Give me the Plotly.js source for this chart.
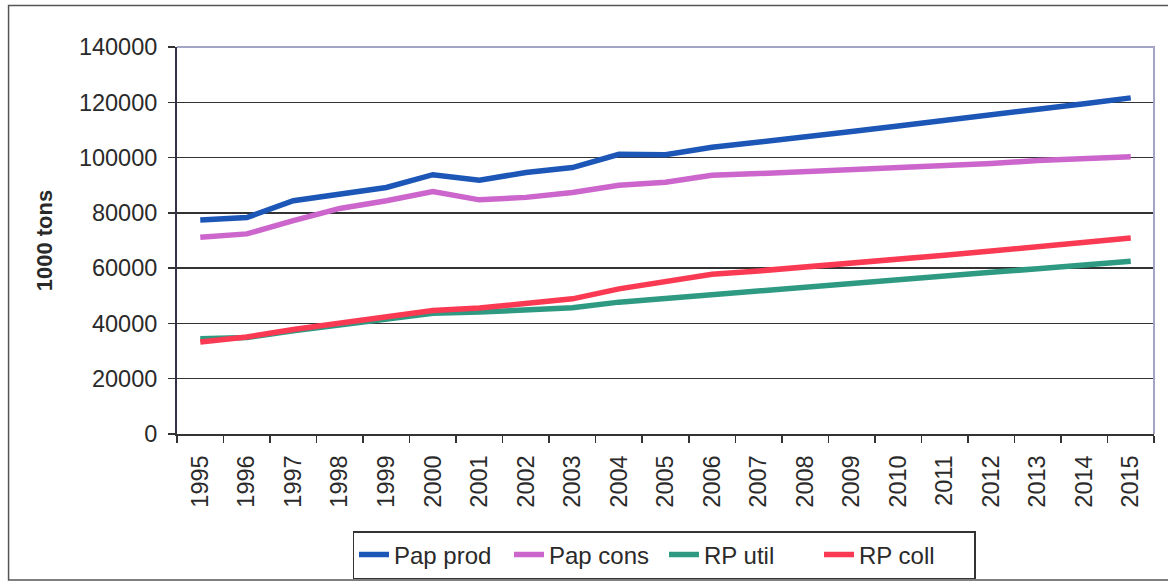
<!DOCTYPE html>
<html>
<head>
<meta charset="utf-8">
<script src="https://cdn.plot.ly/plotly-3.0.1.min.js"></script>
<style>
  html, body { margin: 0; padding: 0; background: #ffffff; }
  #chart { width: 1168px; height: 583px; }
</style>
</head>
<body>
<div id="chart"></div>
<script>
// Years on the category axis
const years = ['1995','1996','1997','1998','1999','2000','2001','2002','2003','2004','2005',
               '2006','2007','2008','2009','2010','2011','2012','2013','2014','2015'];

// Paper production (1000 tons)
const papProd = [77400, 78300, 84400, 86800, 89200, 93800, 91800, 94600, 96400, 101200, 101000,
                 103700, 105500, 107400, 109400, 111400, 113300, 115500, 117500, 119500, 121600];

// Paper consumption (1000 tons)
const papCons = [71200, 72400, 77200, 81600, 84400, 87700, 84700, 85600, 87400, 90000, 91100,
                 93600, 94200, 94900, 95600, 96300, 97000, 97900, 98900, 99600, 100300];

// Recovered paper utilisation (1000 tons)
const rpUtil = [34500, 34900, 37300, 39300, 41300, 43700, 44100, 45100, 45700, 47700, 49100,
                50500, 51800, 53100, 54400, 55800, 57200, 58500, 59800, 61200, 62500];

// Recovered paper collection (1000 tons)
const rpColl = [33300, 35100, 37800, 40200, 42600, 44700, 45600, 47300, 48900, 52500, 55000,
                57800, 59000, 60300, 61600, 63000, 64700, 66200, 67700, 69300, 70900];

const seriesNames = ['Pap prod', 'Pap cons', 'RP util', 'RP coll'];
const seriesColors = ['#1c56b6', '#cc66cc', '#2e9a82', '#fa3a52'];
const seriesValues = [papProd, papCons, rpUtil, rpColl];

const yTicks = [0, 20000, 40000, 60000, 80000, 100000, 120000, 140000];

const FONT = 'Liberation Sans, Arial, sans-serif';
const INK = '#2a2a2a';

const traces = seriesValues.map((vals, i) => ({
  type: 'scatter',
  mode: 'lines',
  name: seriesNames[i],
  x: years,
  y: vals,
  line: { color: seriesColors[i], width: 5.5 },
  hoverinfo: 'skip'
}));

const layout = {
  width: 1168,
  height: 583,
  margin: { l: 176.5, r: 14, t: 46.5, b: 149 },
  paper_bgcolor: '#ffffff',
  plot_bgcolor: '#ffffff',
  font: { family: FONT, color: INK, size: 23 },
  showlegend: true,
  legend: {
    orientation: 'h',
    xref: 'container', yref: 'container',
    x: 664 / 1168, xanchor: 'center',
    y: 1 - 531 / 583, yanchor: 'top',
    font: { family: FONT, size: 24, color: INK },
    bordercolor: '#333333',
    borderwidth: 1.5,
    bgcolor: '#ffffff',
    itemwidth: 30,
    entrywidth: 110,
    entrywidthmode: 'pixels',
    tracegroupgap: 0
  },
  xaxis: {
    type: 'category',
    range: [-0.5, years.length - 0.5],
    automargin: false,
    tickangle: -90,
    tickson: 'boundaries',
    ticks: 'outside',
    ticklen: 7,
    tickwidth: 1.5,
    tickcolor: '#333333',
    ticklabelstandoff: 10,
    showline: true,
    linecolor: '#333333',
    linewidth: 2,
    showgrid: false,
    zeroline: false,
    tickfont: { family: FONT, size: 23.5, color: INK },
    fixedrange: true
  },
  yaxis: {
    range: [0, 140000],
    automargin: false,
    tickvals: yTicks,
    ticktext: yTicks.map(v => String(v)),
    ticks: 'outside',
    ticklen: 7,
    tickwidth: 1.5,
    tickcolor: '#333333',
    ticklabelstandoff: 6,
    showline: true,
    linecolor: '#333344',
    linewidth: 2,
    showgrid: true,
    gridcolor: '#333333',
    gridwidth: 1.5,
    zeroline: false,
    tickfont: { family: FONT, size: 23.5, color: INK },
    title: {
      text: '<b>1000 tons</b>',
      font: { family: FONT, size: 22, color: INK },
      standoff: 20
    },
    fixedrange: true
  },
  shapes: [
    // light top and right edges of the plotting area
    {
      type: 'path', xref: 'paper', yref: 'paper',
      path: 'M 0,1 L 1,1 L 1,0',
      line: { color: '#a4a4c4', width: 2 },
      layer: 'above'
    },
    // outer chart frame
    {
      type: 'rect', xref: 'paper', yref: 'paper',
      x0: -0.1724, x1: 1.02, y0: -0.377, y1: 1.107,
      line: { color: '#555555', width: 1.5 },
      layer: 'below'
    }
  ]
};

Plotly.newPlot('chart', traces, layout, { displayModeBar: false, staticPlot: true });
</script>
</body>
</html>
